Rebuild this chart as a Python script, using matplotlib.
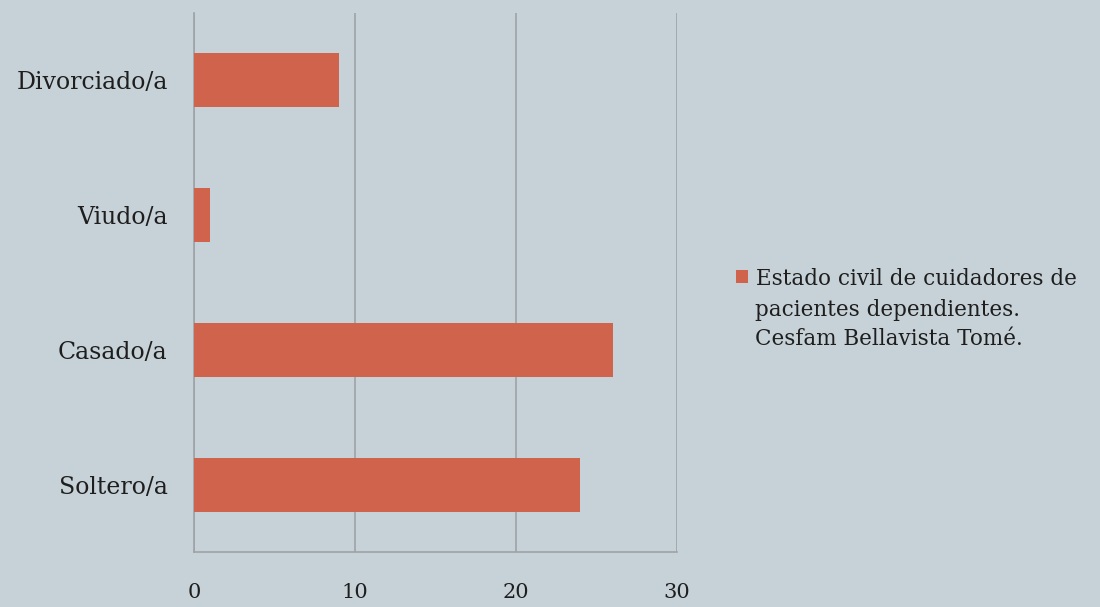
import matplotlib.pyplot as plt

# datos
categorias = ['Soltero/a', 'Casado/a', 'Viudo/a', 'Divorciado/a']
valores = [24, 26, 1, 9]
serie = ['Estado civil de cuidadores de', 'pacientes dependientes.', 'Cesfam Bellavista Tomé.']
xticks = [0, 10, 20, 30]

fondo = '#C7D2D8'
barcolor = '#D0634B'
gridcolor = '#9EA3A6'
textcolor = '#1E1E1E'

plt.rcParams['font.family'] = ['DejaVu Serif']

fig = plt.figure(figsize=(11, 6.07), dpi=100, facecolor=fondo)
ax = fig.add_axes([0.1764, 0.0906, 0.4391, 0.888])
ax.set_facecolor(fondo)

ax.barh(range(len(categorias)), valores, height=0.4, color=barcolor, label=serie[0], zorder=3)

ax.set_xlim(0, 30)
ax.set_ylim(-0.5, len(categorias) - 0.5)
ax.set_xticks(xticks)
ax.set_yticks(range(len(categorias)))
ax.set_yticklabels(categorias)
ax.tick_params(axis='x', length=0, pad=22, labelsize=15, colors=textcolor)
ax.tick_params(axis='y', length=0, pad=19, labelsize=17, colors=textcolor)
ax.grid(True, axis='x', color=gridcolor, linewidth=1.2, zorder=0)

for s in ['top', 'right']:
    ax.spines[s].set_visible(False)
for s in ['left', 'bottom']:
    ax.spines[s].set_color(gridcolor)
    ax.spines[s].set_linewidth(1.2)

# leyenda: marcador junto a la primera línea, el resto debajo
leg = fig.legend(loc='upper left', bbox_to_anchor=(0.659, 0.577), frameon=False,
                 fontsize=15.5, handlelength=0.55, handleheight=0.55, handletextpad=0.4,
                 borderpad=0)
for t in leg.get_texts():
    t.set_color(textcolor)
fig.text(0.6865, 0.508, '\n'.join(serie[1:]), fontsize=15.5, color=textcolor,
         va='top', ha='left', linespacing=1.45)

fig.savefig('out.png', dpi=100, facecolor=fondo)
